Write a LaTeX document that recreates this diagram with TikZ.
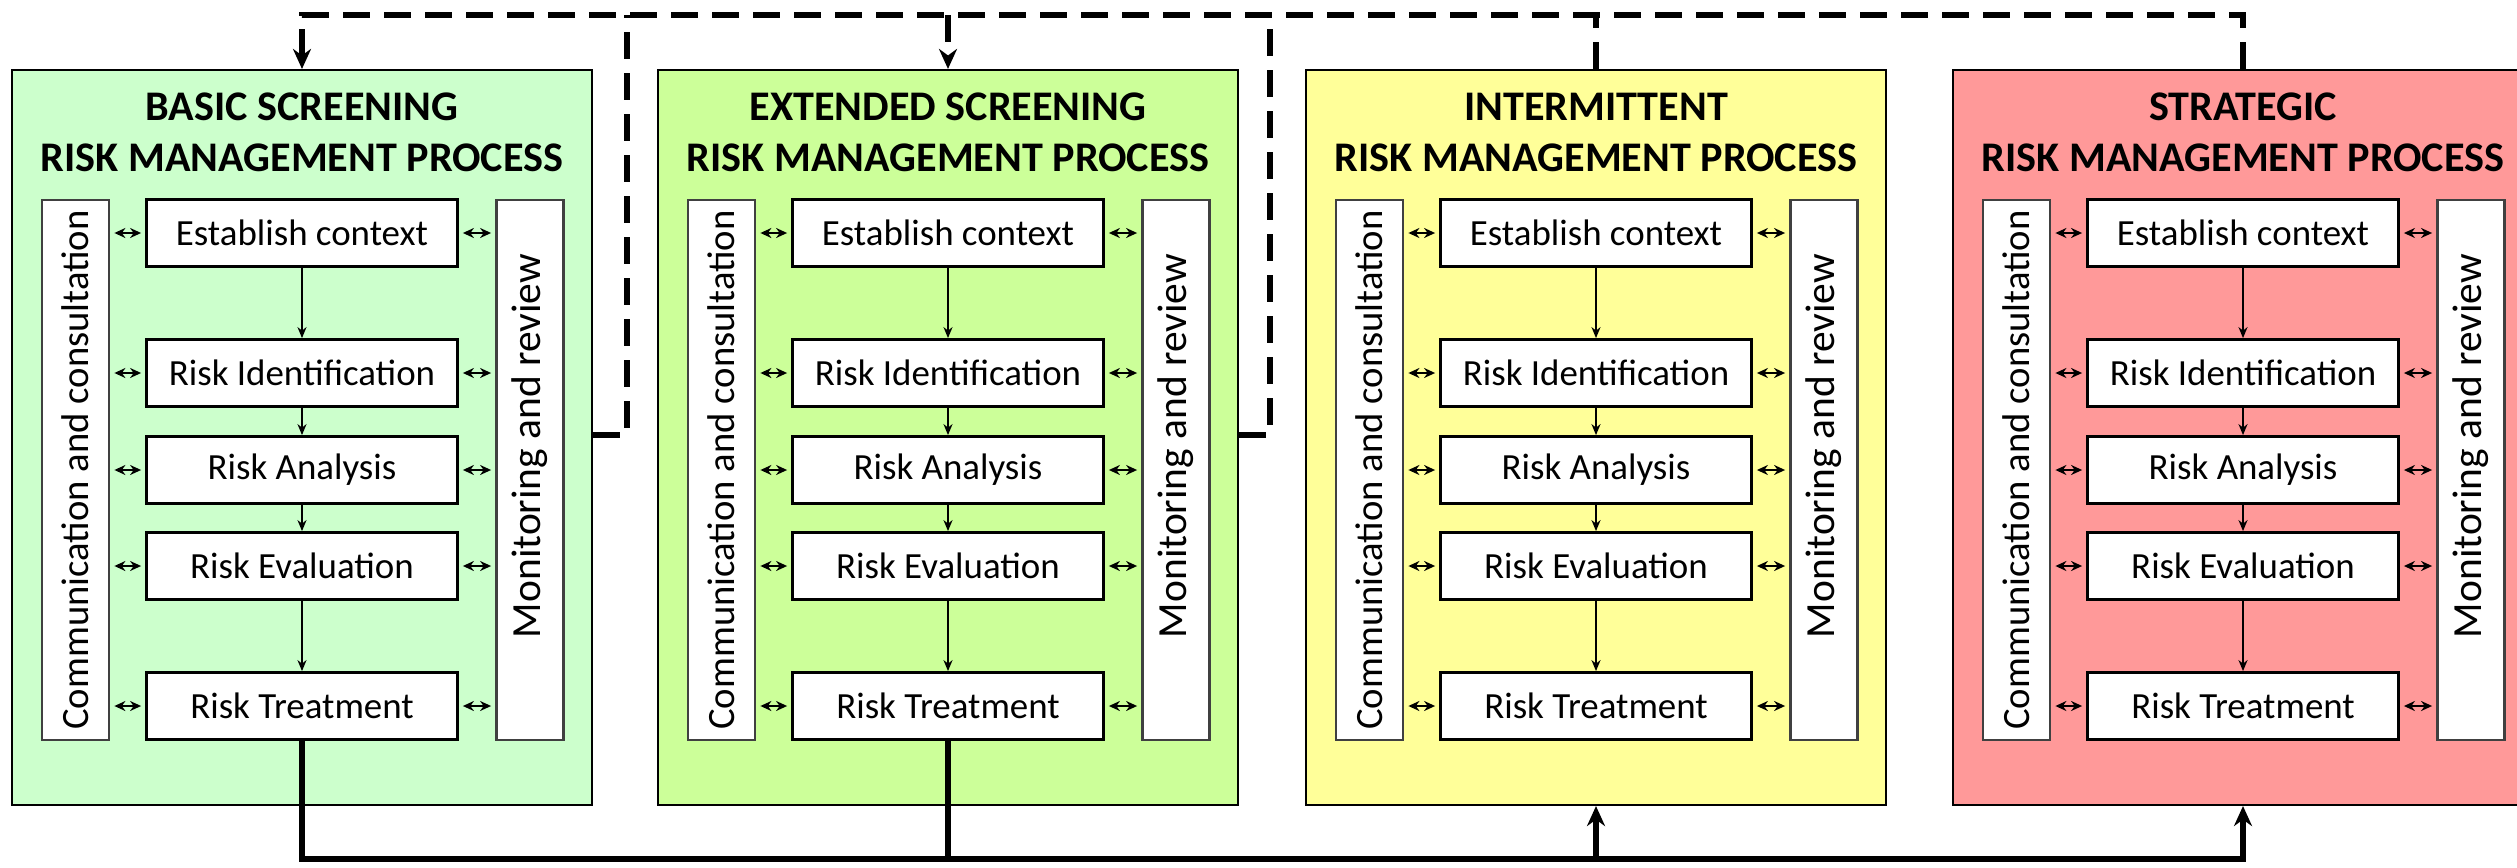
\documentclass[tikz,border=0pt]{standalone}
\usepackage{fontspec}
\setmainfont{Carlito}
\usetikzlibrary{arrows.meta,positioning,calc}
\definecolor{PanelGreen}{HTML}{CCFFCC}
\definecolor{PanelLime}{HTML}{CCFF99}
\definecolor{PanelYellow}{HTML}{FFFF99}
\definecolor{PanelRed}{HTML}{FF9999}
\definecolor{EdgeGray}{HTML}{404040}
\tikzset{
  panel/.style={draw=black,line width=0.6pt,minimum width=58mm,minimum height=73.5mm,inner sep=0pt},
  paneltitle/.style={align=center,font=\fontsize{12}{14.5}\selectfont\bfseries},
  stepbox/.style={draw=black,line width=0.8pt,fill=white,minimum width=31.1mm,minimum height=6.7mm,inner sep=0pt,font=\fontsize{10.5}{12}\selectfont},
  sidebox/.style={draw=EdgeGray,line width=0.8pt,fill=white,minimum width=6.7mm,minimum height=54mm,inner sep=0pt},
  sidetext/.style={rotate=90,inner sep=0pt,font=\fontsize{11}{13}\selectfont},
  steparrow/.style={-{Stealth[length=1.1mm,width=0.9mm]},line width=0.5pt},
  linkarrow/.style={{Stealth[length=1.1mm,width=1mm]}-{Stealth[length=1.1mm,width=1mm]},line width=0.6pt,shorten <=0.4mm,shorten >=0.4mm},
  busline/.style={line width=1.8pt},
  busarrow/.style={-{Stealth[length=2mm,width=1.8mm]},line width=1.8pt},
  busdash/.style={line width=1.6pt,dash pattern=on 2.7mm off 1.4mm}
}
\begin{document}
\begin{tikzpicture}[x=0.1mm,y=0.1mm]
\useasboundingbox (0,0) rectangle (2517,867);
% the four process panels
\foreach \n/\cx/\col/\ttl in {b1/302/PanelGreen/{BASIC SCREENING},b2/948/PanelLime/{EXTENDED SCREENING},b3/1596/PanelYellow/{INTERMITTENT},b4/2243/PanelRed/{STRATEGIC}}{
  \node[panel,fill=\col] (\n) at (\cx,429.5) {};
  \node[paneltitle] (\n-title) at (\cx,735) {\ttl\\RISK MANAGEMENT PROCESS};
  \node[sidebox] (\n-cc) at (\cx-226.5,397) {};
  \node[sidetext] at (\n-cc) {Communication and consultation};
  \node[sidebox] (\n-mr) at (\cx+228,397) {};
  \node[sidetext,xshift=2.4mm,font=\fontsize{11.8}{13}\selectfont] at (\n-mr) {Monitoring and review};
  \foreach \s/\y/\txt in {ec/634/Establish context,ri/494/Risk Identification,ra/397/Risk Analysis,re/301/Risk Evaluation,rt/161/Risk Treatment}{
    \node[stepbox] (\n-\s) at (\cx,\y) {\txt};
    \draw[linkarrow] (\n-cc.east |- \n-\s) -- (\n-\s.west);
    \draw[linkarrow] (\n-\s.east) -- (\n-mr.west |- \n-\s);
  }
  \foreach \a/\b in {ec/ri,ri/ra,ra/re,re/rt}
    \draw[steparrow] (\n-\a) -- (\n-\b);
}
% bus lines
\coordinate (bot) at (0,8);
\coordinate (top) at (0,852);
\coordinate (s1) at (627,432);
\coordinate (s2) at (1270,432);
\draw[busarrow] (b1-rt.south) |- (bot -| b4) -- (b4.south);
\draw[busline] (b2-rt.south) -- (bot -| b2-rt);
\draw[busarrow] (bot -| b3) -- (b3.south);
\draw[busdash,-{Stealth[length=2mm,width=1.8mm]}] (b4.north) |- (top -| b1) -- (b1.north);
\draw[busdash] (b3.north) -- (top -| b3);
\draw[busdash,-{Stealth[length=2mm,width=1.8mm]}] (top -| b2) -- (b2.north);
\draw[busdash] (b1.east |- s1) -| (top -| s1);
\draw[busdash] (b2.east |- s2) -| (top -| s2);
\end{tikzpicture}
\end{document}
